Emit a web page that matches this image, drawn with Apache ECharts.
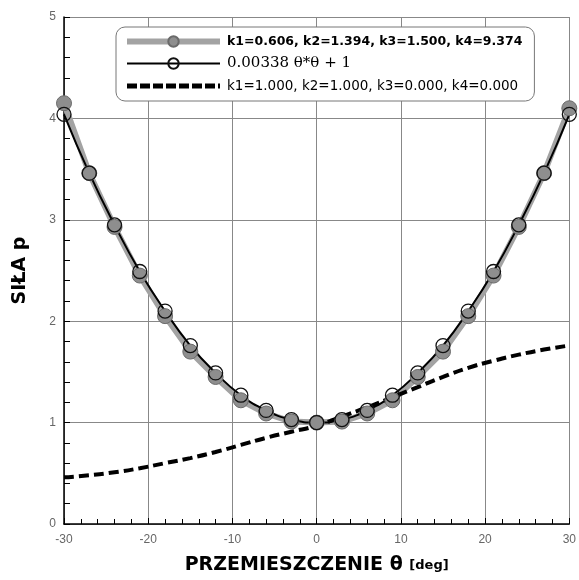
<!DOCTYPE html>
<html>
<head>
<meta charset="utf-8">
<script src="https://cdn.jsdelivr.net/npm/echarts@6/dist/echarts.min.js"></script>
<style>
  html, body { margin: 0; padding: 0; background: #fff; }
  #chart { width: 579px; height: 580px; }
</style>
</head>
<body>
<div id="chart"></div>
<script>
// displacement in degrees
const theta = [-30, -27, -24, -21, -18, -15, -12, -9, -6, -3, 0, 3, 6, 9, 12, 15, 18, 21, 24, 27, 30];
// k1=0.606 ... (grey, filled markers)
const fitted = [4.15, 3.46, 2.93, 2.45, 2.05, 1.70, 1.45, 1.22, 1.09, 1.01, 1.00, 1.01, 1.09, 1.22, 1.45, 1.70, 2.05, 2.45, 2.93, 3.46, 4.10];
// 0.00338 θ*θ + 1 (black, open markers)
const parabola = [4.04, 3.46, 2.95, 2.49, 2.10, 1.76, 1.49, 1.27, 1.12, 1.03, 1.00, 1.03, 1.12, 1.27, 1.49, 1.76, 2.10, 2.49, 2.95, 3.46, 4.04];
// k1=1.000 ... (dashed)
const linear = [0.46, 0.48, 0.51, 0.55, 0.60, 0.65, 0.71, 0.78, 0.85, 0.91, 0.97, 1.06, 1.15, 1.25, 1.35, 1.45, 1.54, 1.61, 1.67, 1.72, 1.76];

const names = ['k1=0.606, k2=1.394, k3=1.500, k4=9.374', '0.00338 \u03b8*\u03b8 + 1', 'k1=1.000, k2=1.000, k3=0.000, k4=0.000'];

const pairs = (ys) => theta.map((t, i) => [t, ys[i]]);

let myChart = echarts.init(document.getElementById('chart'));
let option = {
    animation: false,
    grid: { left: 64, right: 7, top: 17, bottom: 56 },
    legend: {
        orient: 'vertical',
        left: 116, top: 27,
        padding: [8, 12, 8, 8],
        itemGap: 8,
        itemWidth: 93, itemHeight: 13,
        backgroundColor: '#fff',
        borderColor: '#777', borderWidth: 1, borderRadius: 9,
        textStyle: { fontSize: 13.5, color: '#000', fontFamily: 'DejaVu Sans', padding: [0, 0, 0, 2] },
        data: [
            { name: names[0], textStyle: { fontWeight: 'bold', fontSize: 12.5 }, lineStyle: { width: 6 } },
            { name: names[1], textStyle: { fontFamily: 'DejaVu Serif', fontSize: 15 }, lineStyle: { width: 2 } },
            { name: names[2], textStyle: { fontSize: 13.5 }, lineStyle: { width: 5, type: [10, 3] }, itemStyle: { opacity: 0 } }
        ]
    },
    xAxis: {
        type: 'value', min: -30, max: 30, interval: 10,
        name: '{a|PRZEMIESZCZENIE \u03b8 }{b|[deg]}',
        nameLocation: 'middle', nameGap: 32,
        nameTextStyle: { rich: {
            a: { fontSize: 19, fontWeight: 'bold', fontFamily: 'DejaVu Sans', color: '#000' },
            b: { fontSize: 13, fontWeight: 'bold', fontFamily: 'DejaVu Sans', color: '#000' }
        } },
        axisLine: { lineStyle: { color: '#000', width: 1.5 } },
        axisTick: { inside: true, length: 6, lineStyle: { color: '#000' } },
        minorTick: { show: true, splitNumber: 5, length: 5, lineStyle: { color: '#000' } },
        axisLabel: { color: '#666', fontSize: 12, fontFamily: 'Liberation Sans', margin: 10 },
        splitLine: { lineStyle: { color: '#888', width: 1 } }
    },
    yAxis: {
        type: 'value', min: 0, max: 5, interval: 1,
        name: 'SIŁA p', nameLocation: 'middle', nameGap: 34, nameRotate: 90,
        nameTextStyle: { fontSize: 19, fontWeight: 'bold', fontFamily: 'DejaVu Sans', color: '#000' },
        axisLine: { show: true, onZero: false, lineStyle: { color: '#000', width: 1.5 } },
        axisTick: { show: true, inside: true, length: 6, lineStyle: { color: '#000' } },
        minorTick: { show: true, splitNumber: 5, length: 6, lineStyle: { color: '#000' } },
        axisLabel: { color: '#666', fontSize: 12, fontFamily: 'Liberation Sans', margin: 8 },
        splitLine: { lineStyle: { color: '#888', width: 1 } }
    },
    series: [
        {
            name: names[0], type: 'line', data: pairs(fitted),
            symbol: 'circle', symbolSize: 15,
            lineStyle: { color: '#a3a3a3', width: 6 },
            itemStyle: { color: '#8e8e8e', borderColor: '#6a6a6a', borderWidth: 1 }
        },
        {
            name: names[1], type: 'line', data: pairs(parabola), smooth: true,
            symbol: 'circle', symbolSize: 14,
            lineStyle: { color: '#000', width: 2 },
            itemStyle: { color: 'rgba(255,255,255,0)', borderColor: '#111', borderWidth: 1.3 }
        },
        {
            name: names[2], type: 'line', data: pairs(linear), smooth: true,
            symbol: 'none',
            lineStyle: { color: '#000', width: 4, type: [10, 5] },
            itemStyle: { color: '#000' }
        }
    ]
};
myChart.setOption(option);
</script>
</body>
</html>
